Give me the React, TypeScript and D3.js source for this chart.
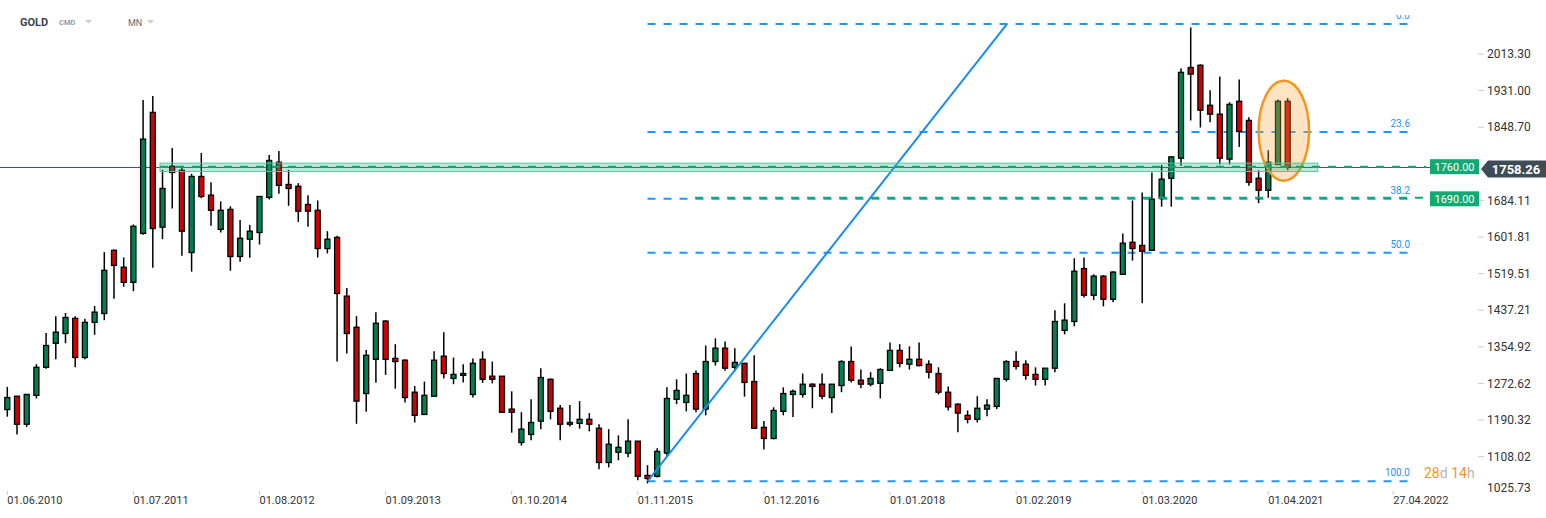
import React from 'react';
import * as d3 from 'd3';

const W = 1546;
const H = 518;

// Monthly GOLD candles, June 2010 .. June 2021
const opens = [1214,1244,1181,1246,1309,1363,1385,1419,1331,1410,1430,1572,1534,1500,1610,1882,1624,1761,1752,1567,1738,1696,1619,1664,1558,1597,1612,1691,1770,1720,1716,1675,1662,1576,1601,1469,1399,1250,1327,1413,1329,1325,1253,1203,1244,1334,1284,1291,1248,1327,1289,1289,1215,1140,1158,1188,1282,1217,1181,1183,1192,1172,1095,1118,1116,1143,1066,1064,1116,1237,1230,1295,1215,1322,1352,1309,1318,1277,1174,1149,1210,1248,1248,1271,1271,1241,1268,1322,1280,1271,1273,1302,1347,1316,1327,1316,1295,1253,1226,1201,1192,1215,1221,1282,1322,1316,1293,1282,1307,1392,1412,1531,1471,1514,1462,1518,1590,1583,1572,1689,1734,1779,1983,1988,1898,1878,1777,1907,1864,1734,1707,1765,1907];
const highs = [1265,1244,1248,1316,1386,1424,1431,1424,1418,1447,1568,1574,1556,1630,1910,1919,1753,1802,1762,1744,1791,1725,1682,1671,1640,1629,1693,1786,1795,1753,1723,1696,1684,1615,1605,1487,1424,1348,1433,1415,1361,1327,1267,1277,1345,1388,1331,1316,1329,1345,1322,1289,1255,1208,1237,1307,1284,1224,1224,1233,1206,1181,1170,1156,1192,1143,1089,1127,1264,1282,1295,1302,1358,1374,1367,1352,1318,1336,1188,1219,1264,1259,1295,1273,1295,1271,1325,1356,1304,1298,1307,1365,1361,1356,1365,1325,1309,1266,1228,1212,1244,1237,1284,1325,1345,1325,1309,1307,1437,1453,1554,1556,1518,1516,1525,1610,1684,1702,1747,1764,1784,1981,2073,1990,1932,1963,1905,1956,1871,1752,1797,1911,1914];
const lows = [1198,1158,1175,1239,1306,1327,1363,1309,1327,1382,1415,1463,1490,1480,1607,1533,1597,1666,1560,1524,1689,1627,1612,1526,1546,1555,1585,1686,1699,1672,1636,1625,1556,1565,1322,1340,1182,1209,1274,1292,1261,1230,1185,1203,1244,1284,1271,1275,1241,1274,1273,1206,1162,1133,1145,1170,1192,1145,1176,1171,1165,1080,1084,1100,1107,1055,1048,1061,1110,1226,1210,1208,1201,1313,1301,1300,1243,1172,1124,1147,1201,1197,1241,1217,1237,1206,1253,1275,1262,1266,1239,1302,1309,1304,1311,1284,1248,1212,1163,1183,1185,1199,1215,1277,1304,1281,1268,1268,1298,1383,1401,1466,1460,1446,1455,1518,1549,1453,1571,1670,1670,1762,1864,1848,1860,1765,1765,1804,1717,1678,1690,1765,1752];
const closes = [1241,1181,1248,1309,1358,1388,1421,1331,1410,1433,1527,1538,1500,1626,1822,1621,1711,1747,1615,1738,1693,1662,1662,1558,1599,1615,1693,1774,1718,1711,1660,1660,1576,1597,1475,1385,1233,1336,1408,1327,1322,1241,1201,1246,1325,1295,1293,1295,1318,1282,1282,1208,1208,1170,1185,1286,1210,1181,1185,1192,1181,1095,1136,1129,1143,1064,1059,1120,1239,1257,1246,1215,1322,1352,1307,1320,1275,1172,1149,1212,1250,1255,1271,1266,1244,1271,1322,1280,1271,1284,1304,1347,1318,1327,1313,1298,1253,1220,1206,1192,1217,1224,1284,1322,1311,1291,1282,1307,1412,1415,1525,1471,1514,1462,1523,1588,1576,1570,1687,1732,1782,1972,1968,1887,1878,1779,1900,1839,1725,1707,1770,1907,1758.26];

const tickLabels = ['01.06.2010','01.07.2011','01.08.2012','01.09.2013','01.10.2014','01.11.2015','01.12.2016','01.01.2018','01.02.2019','01.03.2020','01.04.2021','27.04.2022'];
const tickMonths = [0,13,26,39,52,65,78,91,104,117,130,142.87];

const priceTicks = [2013.30,1931.00,1848.70,1684.11,1601.81,1519.51,1437.21,1354.92,1272.62,1190.32,1108.02,1025.73];

const fibLevels = [0, 23.6, 38.2, 50, 100];
const fibLabels = ['0.0','23.6','38.2','50.0','100.0'];
const fibHigh = 2080.7;
const fibLow = 1052.7;
const fibStartMonth = 66;
const trendEndMonth = 103.05;

const supportLevels = [1760, 1690];
const supportLabels = ['1760.00', '1690.00'];
const supportStartMonths = [15.74, 70.9];
const bandRange = [1749, 1768];
const bandEndMonth = 135.1;
const lastPrice = 1758.26;
const lastPriceLabel = '1758.26';
const highlightMonths = [129.0, 134.2];
const highlightPrices = [1728.5, 1953.3];

const GREEN = '#008050';
const RED = '#d10000';
const BLUE = '#2196f3';
const SUP = '#12aa72';

export default function App() {
  const x = d3.scaleLinear().domain([0, 132]).range([7.3, 7.3 + 9.7 * 132]);
  const y = d3.scaleLinear().domain([1108.02, 2013.30]).range([456.7, 54]);
  const plotRight = 1410;
  const lineRight = 1426;
  const bw = 5;

  const fibPrice = (p: number) => fibHigh - (fibHigh - fibLow) * p / 100;

  return (
    <svg width={W} height={H} style={{ position: 'absolute', left: 0, top: 0, background: '#fff' }}
      fontFamily="Roboto, 'Noto Sans', sans-serif">
      <defs>
        <clipPath id="plotclip"><rect x={0} y={15} width={1430} height={480} /></clipPath>
      </defs>
      {/* header */}
      <text x={20} y={26} fontSize={11} fontWeight={700} fill="#37424d">GOLD</text>
      <text x={59} y={25} fontSize={7.5} fontWeight={700} fill="#8f9ca8">CMD</text>
      <path d="M85,20 L92,20 L88.5,23.5 Z" fill="#c5ccd2" />
      <text x={128} y={26} fontSize={9} fill="#5f6b75">MN</text>
      <path d="M147,20 L154,20 L150.5,23.5 Z" fill="#c5ccd2" />

      <g clipPath="url(#plotclip)">
        {/* fib lines */}
        {fibLevels.map((l, i) => (
          <g key={'f' + i}>
            <line x1={x(fibStartMonth)} x2={plotRight} y1={y(fibPrice(l))} y2={y(fibPrice(l))}
              stroke={BLUE} strokeWidth={2} strokeDasharray="8 8" />
            <text x={plotRight} y={y(fibPrice(l)) - 5} fontSize={10} fill={BLUE} textAnchor="end">{fibLabels[i]}</text>
          </g>
        ))}

        {/* last price line */}
        <line x1={0} x2={1430} y1={y(lastPrice)} y2={y(lastPrice)} stroke="#3d4c57" strokeWidth={1} />

        {/* candles */}
        {opens.map((o, i) => {
          const c = closes[i];
          const up = c >= o;
          const cx = x(i);
          const top = y(Math.max(o, c));
          const bot = y(Math.min(o, c));
          return (
            <g key={i}>
              <line x1={cx} x2={cx} y1={y(highs[i])} y2={y(lows[i])} stroke="#000" strokeWidth={1.5} />
              <rect x={cx - bw / 2} y={top} width={bw} height={Math.max(1, bot - top)}
                fill={up ? GREEN : RED} stroke="#000" strokeWidth={1.3} />
            </g>
          );
        })}

        {/* trend line */}
        <line x1={x(fibStartMonth)} y1={y(fibLow)} x2={x(trendEndMonth)} y2={y(fibHigh)} stroke="#1a8cf0" strokeWidth={2} />

        {/* highlight ellipse */}
        <ellipse cx={(x(highlightMonths[0]) + x(highlightMonths[1])) / 2}
          cy={(y(highlightPrices[0]) + y(highlightPrices[1])) / 2}
          rx={(x(highlightMonths[1]) - x(highlightMonths[0])) / 2}
          ry={(y(highlightPrices[0]) - y(highlightPrices[1])) / 2}
          fill="rgb(255,165,60)" fillOpacity={0.3} stroke="#f7941d" strokeWidth={2.5} />

        {/* band */}
        <rect x={x(supportStartMonths[0])} y={y(bandRange[1])} width={x(bandEndMonth) - x(supportStartMonths[0])}
          height={y(bandRange[0]) - y(bandRange[1])} fill="rgba(30,180,130,0.3)" stroke="#5cc49c" strokeWidth={1} />

        {/* support lines */}
        {supportLevels.map((l, i) => (
          <line key={'s' + i} x1={x(supportStartMonths[i])} x2={lineRight} y1={y(l)} y2={y(l)}
            stroke={SUP} strokeWidth={2} strokeDasharray="8 8" />
        ))}
      </g>

      {/* countdown */}
      <text x={1424} y={478} fontSize={14}>
        <tspan fill="#f7931e">28</tspan><tspan fill="#b5b5b5">d </tspan>
        <tspan fill="#f7931e">14</tspan><tspan fill="#b5b5b5">h</tspan>
      </text>

      {/* y axis */}
      {priceTicks.map((p, i) => {
        const yy = Math.min(y(p), 488);
        const last = i === priceTicks.length - 1;
        return (
          <g key={'y' + i}>
            {!last && <line x1={1478} x2={1484} y1={y(p)} y2={y(p)} stroke="#c8ced3" strokeWidth={1} />}
            <text x={1487} y={yy} dy="0.35em" fontSize={12} fill="#333">{p.toFixed(2)}</text>
          </g>
        );
      })}

      {/* support labels */}
      {supportLevels.map((l, i) => (
        <g key={'sl' + i}>
          <rect x={1430} y={y(l) - 7.5 + (i === 1 ? 1 : 0)} width={49} height={15} fill={SUP} />
          <text x={1454.5} y={y(l) + (i === 1 ? 1 : 0)} dy="0.36em" fontSize={11} fill="#fff" textAnchor="middle">{supportLabels[i]}</text>
        </g>
      ))}

      {/* last price label */}
      <path d={`M1481,${y(lastPrice) + 1.5} L1488,${y(lastPrice) - 7} L1546,${y(lastPrice) - 7} L1546,${y(lastPrice) + 10} L1488,${y(lastPrice) + 10} Z`}
        fill="#3d4c57" />
      <text x={1516} y={y(lastPrice) + 1.5} dy="0.36em" fontSize={13} fontWeight={700} fill="#fff" textAnchor="middle">{lastPriceLabel}</text>

      {/* x axis */}
      {tickLabels.map((t, i) => (
        <g key={'x' + i}>
          <line x1={x(tickMonths[i])} x2={x(tickMonths[i])} y1={491} y2={495} stroke="#c8ced3" strokeWidth={1} />
          <text x={x(tickMonths[i])} y={500} dy="0.35em" fontSize={11} fill="#333">{t}</text>
        </g>
      ))}
    </svg>
  );
}
